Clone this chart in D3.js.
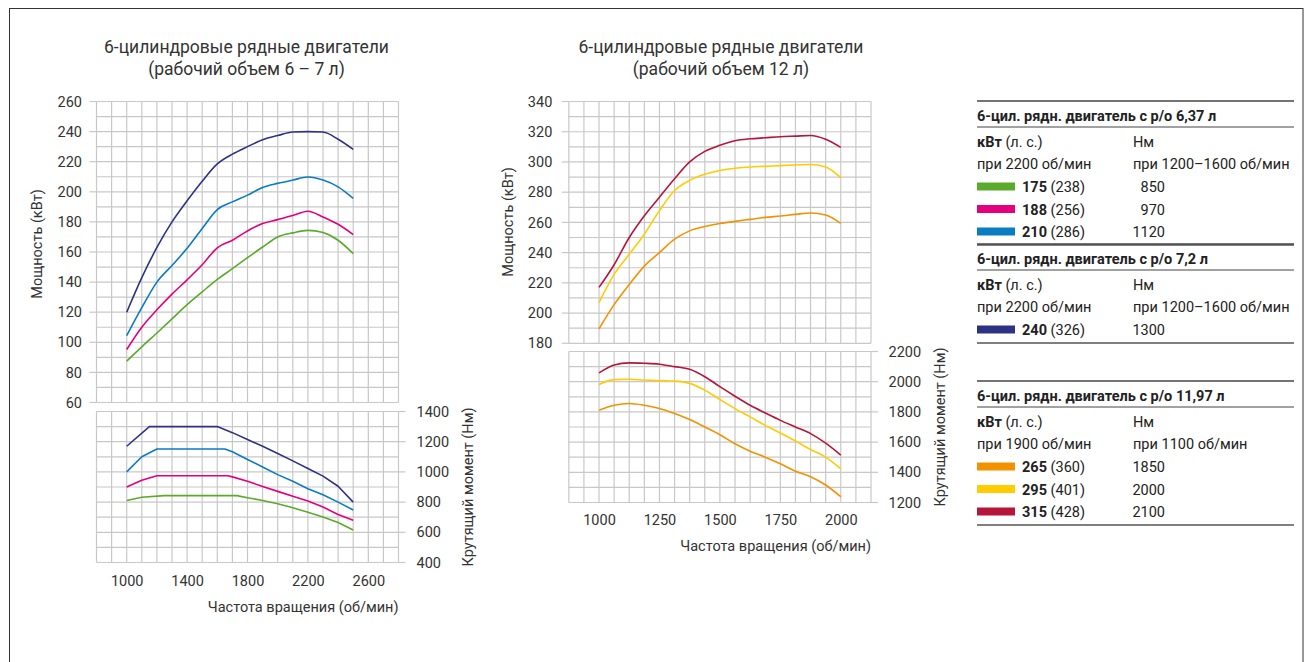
<!DOCTYPE html>
<html><head><meta charset="utf-8">
<script src="https://cdn.jsdelivr.net/npm/d3@7"></script>
<style>
html,body{margin:0;padding:0;background:#fff;}
svg{display:block;font-family:Roboto,"Liberation Sans",sans-serif;}
</style></head><body>
<svg id="c" width="1312" height="662"></svg>
<script>
// ---------- DATA ----------
// Left chart: 6-7 l engines, power (kW)
const rpmPowerL = [1000,1100,1200,1300,1400,1500,1600,1700,1800,1900,2000,2100,2200,2300,2400,2500];
const powerL175 = [87.5,97,106.2,115.6,125,133.5,141.8,148.9,156.2,163.3,170,172.7,174.4,172.9,167.8,158.9];
const powerL188 = [95.2,110,121.6,132,141.5,151.5,162.8,167.8,174,178.9,181.5,184.3,187.1,183.3,178.4,171.6];
const powerL210 = [104.5,123,140,151,162.5,175.6,188.2,193.3,197.8,202.9,205.6,207.8,209.8,207.8,203.3,195.6];
const powerL240 = [120,143,163,180,194,207,218.5,225,230,234.6,237.4,239.7,240,239.7,234.9,228.2];
// Left chart torque (Nm)
const rpmTorqueL175 = [1000,1100,1250,1730,1800,1900,2000,2100,2200,2300,2400,2500];
const torqueL175    = [810,832,843,843,829,811,789,762,733,702,665,615];
const rpmTorqueL188 = [1000,1100,1200,1670,1700,1800,1900,2000,2100,2200,2300,2400,2500];
const torqueL188    = [900,944,975,975,967,938,904,871,838,807,767,718,680];
const rpmTorqueL210 = [1000,1100,1200,1650,1700,1800,1900,2000,2100,2200,2300,2400,2500];
const torqueL210    = [1000,1100,1152,1152,1133,1082,1033,982,938,889,849,800,748];
const rpmTorqueL240 = [1000,1150,1600,1700,1800,1900,2000,2100,2200,2300,2400,2500];
const torqueL240    = [1170,1300,1300,1260,1215,1170,1122,1073,1022,972,905,800];

// Right chart: 12 l engines
const rpmR = [1000,1062.5,1125,1187.5,1250,1312.5,1375,1437.5,1500,1562.5,1625,1687.5,1750,1812.5,1875,1937.5,2000];
const powerR265 = [189.6,205.6,218.9,231.1,240,248.9,254.4,257.3,259.3,260.7,262,263.3,264.2,265.3,266.2,264.9,259.3];
const powerR295 = [207,225.6,238.9,252.2,267.8,281.1,287.8,291.8,294.4,295.8,296.7,297.1,297.6,298,298.3,296.7,289.6];
const powerR315 = [217,232,250,264.4,276.7,288.9,300,307,311,314,315.3,316,316.7,317.1,317.5,315,309.6];
const torqueR265 = [1811,1844,1856,1844,1822,1789,1749,1700,1649,1589,1540,1500,1456,1407,1371,1316,1238];
const torqueR295 = [1982,2014,2016,2011,2007,2004,1989,1944,1882,1822,1767,1711,1660,1607,1551,1500,1422];
const torqueR315 = [2058,2111,2125,2122,2116,2100,2082,2033,1967,1904,1844,1793,1744,1700,1656,1593,1514];

// Axis ticks
const ticksLeftPower  = [60,80,100,120,140,160,180,200,220,240,260];
const ticksLeftTorque = [400,600,800,1000,1200,1400];
const ticksLeftRpm    = [1000,1400,1800,2200,2600];
const ticksRightPower = [180,200,220,240,260,280,300,320,340];
const ticksRightTorque= [1200,1400,1600,1800,2000,2200];
const ticksRightRpm   = [1000,1250,1500,1750,2000];

// Texts
const titleLeft  = ["6-цилиндровые рядные двигатели","(рабочий объем 6 – 7 л)"];
const titleRight = ["6-цилиндровые рядные двигатели","(рабочий объем 12 л)"];
const labelPower = "Мощность (кВт)";
const labelTorque = "Крутящий момент (Нм)";
const labelRpm = "Частота вращения (об/мин)";

// Legend
const legendHeaders  = ["6-цил. рядн. двигатель с р/о 6,37 л","6-цил. рядн. двигатель с р/о 7,2 л","6-цил. рядн. двигатель с р/о 11,97 л"];
const legendPowerRpm = ["при 2200 об/мин","при 2200 об/мин","при 1900 об/мин"];
const legendTorqueRpm= ["при 1200–1600 об/мин","при 1200–1600 об/мин","при 1100 об/мин"];
const legendKw = [[175,188,210],[240],[265,295,315]];
const legendHp = [[238,256,286],[326],[360,401,428]];
const legendNm = [[850,970,1120],[1300],[1850,2000,2100]];

// ---------- STYLE ----------
const colors = {175:"#5aaa2b",188:"#e4007c",210:"#0a7cc1",240:"#2e3285",265:"#f39200",295:"#ffcc00",315:"#b5163a"};
const gridColor = "#c8c8c8";
const textColor = "#333";
const tickFont = "14.5px";

const svg = d3.select("#c");
svg.append("rect").attr("x",0).attr("y",0).attr("width",1312).attr("height",662).attr("fill","#fff");
svg.append("rect").attr("x",9.5).attr("y",8.5).attr("width",1293.5).attr("height",700)
  .attr("fill","none").attr("stroke","#333").attr("stroke-width",1);

function grid(g, x, y, xStep, yStep, majors, side, ext) {
  const [x0,x1] = x.domain(), [y0,y1] = y.domain();
  const xs = [], ys = [];
  for (let v = x0; v <= x1 + 1e-6; v += xStep) xs.push(v);
  for (let v = y0; v <= y1 + 1e-6; v += yStep) ys.push(v);
  g.selectAll(null).data(xs).join("line")
    .attr("x1",d=>x(d)).attr("x2",d=>x(d)).attr("y1",y.range()[0]).attr("y2",y.range()[1])
    .attr("stroke",gridColor).attr("stroke-width",1.2);
  g.selectAll(null).data(ys).join("line")
    .attr("x1",x.range()[0]).attr("x2",x.range()[1]).attr("y1",d=>y(d)).attr("y2",d=>y(d))
    .attr("stroke",gridColor).attr("stroke-width",1.2);
  g.selectAll(null).data(majors).join("line")
    .attr("x1", side==="left" ? x.range()[0]-ext : x.range()[1])
    .attr("x2", side==="left" ? x.range()[0] : x.range()[1]+ext)
    .attr("y1",d=>y(d)).attr("y2",d=>y(d))
    .attr("stroke",gridColor).attr("stroke-width",1.2);
}

function styleAxis(sel) {
  sel.attr("font-family",null).attr("font-size",null);
  sel.select(".domain").remove();
  sel.selectAll("text").attr("fill",textColor).style("font-size",tickFont);
  sel.selectAll("line").remove();
}

function series(g, x, y, xs, ys, color, curve) {
  g.append("path").datum(xs.map((r,i)=>[r,ys[i]]))
    .attr("fill","none").attr("stroke",color).attr("stroke-width",1.6)
    .attr("stroke-linejoin","round")
    .attr("d", d3.line().x(d=>x(d[0])).y(d=>y(d[1])).curve(curve));
}

function title(lines, cx) {
  const t = svg.append("text").attr("text-anchor","middle").attr("fill",textColor).style("font-size","17.5px");
  t.append("tspan").attr("x",cx).attr("y",53).text(lines[0]);
  t.append("tspan").attr("x",cx).attr("y",75).text(lines[1]);
}

function vlabel(text, cx, cy) {
  svg.append("text").attr("transform",`translate(${cx},${cy}) rotate(-90)`)
    .attr("text-anchor","middle").attr("dominant-baseline","middle")
    .attr("fill",textColor).style("font-size",tickFont).text(text);
}

const fmt = d3.format("d");

// ---------- LEFT CHART ----------
{
  const x = d3.scaleLinear().domain([800,2800]).range([96.5,398.5]);
  const yP = d3.scaleLinear().domain([60,260]).range([402.5,101.5]);
  const yT = d3.scaleLinear().domain([400,1400]).range([562.5,411.5]);
  const g = svg.append("g");
  grid(g, x, yP, 100, 10, ticksLeftPower, "left", 7);
  grid(g, x, yT, 100, 100, ticksLeftTorque, "right", 7);

  svg.append("g").attr("transform",`translate(${x.range()[0]},0)`)
    .call(d3.axisLeft(yP).tickValues(ticksLeftPower).tickFormat(fmt).tickSize(0).tickPadding(14.5)).call(styleAxis);
  svg.append("g").attr("transform",`translate(${x.range()[1]},0)`)
    .call(d3.axisRight(yT).tickValues(ticksLeftTorque).tickFormat(fmt).tickSize(0).tickPadding(18)).call(styleAxis);
  svg.append("g").attr("transform",`translate(0,${yT.range()[0]})`)
    .call(d3.axisBottom(x).tickValues(ticksLeftRpm).tickFormat(fmt).tickSize(0).tickPadding(13)).call(styleAxis);

  series(g,x,yP,rpmPowerL,powerL175,colors[175],d3.curveMonotoneX);
  series(g,x,yP,rpmPowerL,powerL188,colors[188],d3.curveMonotoneX);
  series(g,x,yP,rpmPowerL,powerL210,colors[210],d3.curveMonotoneX);
  series(g,x,yP,rpmPowerL,powerL240,colors[240],d3.curveMonotoneX);
  series(g,x,yT,rpmTorqueL175,torqueL175,colors[175],d3.curveLinear);
  series(g,x,yT,rpmTorqueL188,torqueL188,colors[188],d3.curveLinear);
  series(g,x,yT,rpmTorqueL210,torqueL210,colors[210],d3.curveLinear);
  series(g,x,yT,rpmTorqueL240,torqueL240,colors[240],d3.curveLinear);

  title(titleLeft, 246.5);
  vlabel(labelPower, 38, 244);
  vlabel(labelTorque, 469, 487);
  svg.append("text").attr("x",x.range()[1]).attr("y",608).attr("text-anchor","end")
    .attr("dominant-baseline","middle").attr("fill",textColor).style("font-size",tickFont).text(labelRpm);
}

// ---------- RIGHT CHART ----------
{
  const x = d3.scaleLinear().domain([875,2125]).range([568.8,871]);
  const yP = d3.scaleLinear().domain([180,340]).range([343.3,101.5]);
  const yT = d3.scaleLinear().domain([1200,2200]).range([502.5,351.5]);
  const g = svg.append("g");
  grid(g, x, yP, 62.5, 10, ticksRightPower, "left", 7);
  grid(g, x, yT, 62.5, 100, ticksRightTorque, "right", 7);

  svg.append("g").attr("transform",`translate(${x.range()[0]},0)`)
    .call(d3.axisLeft(yP).tickValues(ticksRightPower).tickFormat(fmt).tickSize(0).tickPadding(16.5)).call(styleAxis);
  svg.append("g").attr("transform",`translate(${x.range()[1]},0)`)
    .call(d3.axisRight(yT).tickValues(ticksRightTorque).tickFormat(fmt).tickSize(0).tickPadding(17.5)).call(styleAxis);
  svg.append("g").attr("transform",`translate(0,${yT.range()[0]})`)
    .call(d3.axisBottom(x).tickValues(ticksRightRpm).tickFormat(fmt).tickSize(0).tickPadding(12)).call(styleAxis);

  series(g,x,yP,rpmR,powerR265,colors[265],d3.curveMonotoneX);
  series(g,x,yP,rpmR,powerR295,colors[295],d3.curveMonotoneX);
  series(g,x,yP,rpmR,powerR315,colors[315],d3.curveMonotoneX);
  series(g,x,yT,rpmR,torqueR265,colors[265],d3.curveMonotoneX);
  series(g,x,yT,rpmR,torqueR295,colors[295],d3.curveMonotoneX);
  series(g,x,yT,rpmR,torqueR315,colors[315],d3.curveMonotoneX);

  title(titleRight, 721);
  vlabel(labelPower, 509, 222);
  vlabel(labelTorque, 941, 427);
  svg.append("text").attr("x",x.range()[1]).attr("y",547).attr("text-anchor","end")
    .attr("dominant-baseline","middle").attr("fill",textColor).style("font-size",tickFont).text(labelRpm);
}

// ---------- LEGEND ----------
{
  const L = 977, R = 1294;
  const tops = [101, 244, 381];
  const lg = svg.append("g").style("font-size","14.5px").attr("fill","#222");
  tops.forEach((T, gi) => {
    const n = legendKw[gi].length;
    const bottom = T + 91 + 22.5*(n-1) + 8;
    lg.append("line").attr("x1",L).attr("x2",R).attr("y1",T).attr("y2",T).attr("stroke","#444").attr("stroke-width",1.5);
    lg.append("text").attr("x",L).attr("y",T+19.5).attr("font-weight","bold").text(legendHeaders[gi]);
    lg.append("line").attr("x1",L).attr("x2",R).attr("y1",T+26).attr("y2",T+26).attr("stroke","#444").attr("stroke-width",1.2);
    const kt = lg.append("text").attr("x",L).attr("y",T+46);
    kt.append("tspan").attr("font-weight","bold").text("кВт");
    kt.append("tspan").text(" (л. с.)");
    lg.append("text").attr("x",1133).attr("y",T+46).text("Нм");
    lg.append("text").attr("x",L).attr("y",T+67.5).text(legendPowerRpm[gi]);
    lg.append("text").attr("x",1133).attr("y",T+67.5).text(legendTorqueRpm[gi]);
    legendKw[gi].forEach((kw, i) => {
      const yb = T + 91 + 22.5*i;
      lg.append("rect").attr("x",L).attr("y",yb-9.5).attr("width",38).attr("height",8).attr("fill",colors[kw]);
      const t = lg.append("text").attr("x",1022).attr("y",yb);
      t.append("tspan").attr("font-weight","bold").text(kw);
      t.append("tspan").text(` (${legendHp[gi][i]})`);
      lg.append("text").attr("x",1165).attr("y",yb).attr("text-anchor","end").text(legendNm[gi][i]);
    });
    lg.append("line").attr("x1",L).attr("x2",R).attr("y1",bottom).attr("y2",bottom).attr("stroke","#555").attr("stroke-width",1.5);
  });
}
</script>
</body></html>
